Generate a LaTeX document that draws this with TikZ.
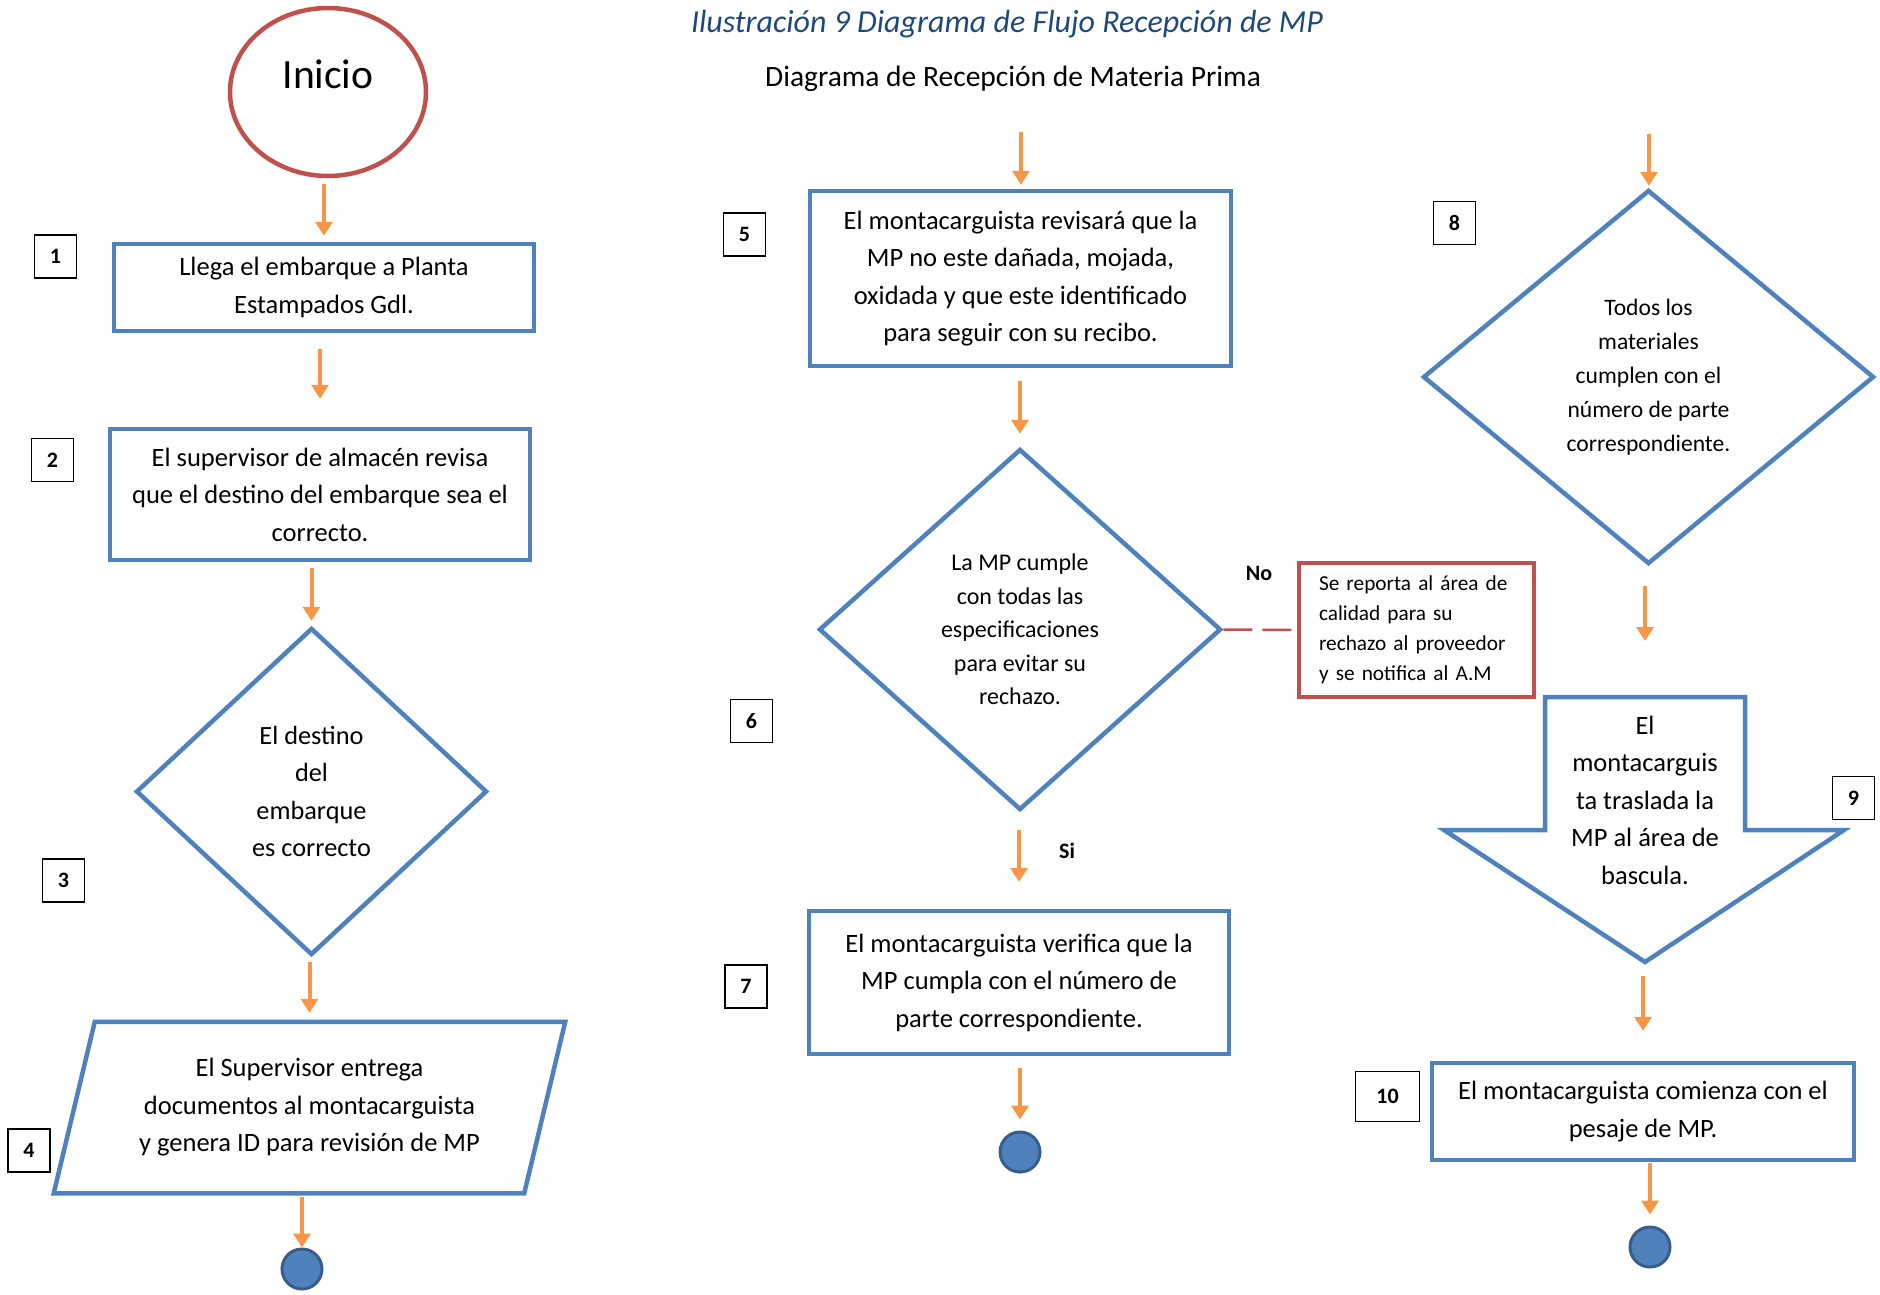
\documentclass[tikz,border=0pt]{standalone}
\usepackage{fontspec}
\setmainfont{Carlito}
\usetikzlibrary{shapes.geometric,arrows.meta}
\definecolor{azul}{HTML}{4F81BD}
\definecolor{azulosc}{HTML}{385D8A}
\definecolor{rojo}{HTML}{C0504D}
\definecolor{naranja}{HTML}{F79646}
\definecolor{titulo}{HTML}{1F497D}
\tikzset{
  caja/.style={draw=azul, line width=4.5pt, inner sep=0pt, align=center, font=\fontsize{26.5}{37.5}\selectfont},
  rombo/.style={diamond, draw=azul, line width=4.5pt, inner sep=0pt, align=center, font=\fontsize{24}{33.6}\selectfont},
  num/.style={draw, line width=1.2pt, minimum width=42pt, minimum height=43pt, inner sep=0pt, font=\fontsize{22}{22}\selectfont\bfseries},
  flecha/.style={draw=naranja, line width=4pt, -{Triangle[length=14pt,width=17pt]}},
  fin/.style={circle, fill=azul, draw=azulosc, line width=3pt, minimum size=40pt, inner sep=0pt},
  etiq/.style={font=\fontsize{22}{22}\selectfont\bfseries}
}
\begin{document}
\begin{tikzpicture}[x=1pt,y=-1pt]
\useasboundingbox (0,0) rectangle (1880,1294);
\node[font=\fontsize{32}{38}\selectfont\itshape, text=titulo] (tit) at (1007,24) {Ilustración 9 Diagrama de Flujo Recepción de MP};
\node[font=\fontsize{29.5}{35}\selectfont] (sub) at (1013,79) {Diagrama de Recepción de Materia Prima};
%Drawing first column
\node[ellipse, draw=rojo, line width=4.5pt, minimum width=196pt, minimum height=168pt, inner sep=0pt, text depth=36pt, font=\fontsize{41.6}{50}\selectfont] (inicio) at (328,92) {Inicio};
\node[caja, minimum width=420pt, minimum height=87pt] (b1) at (324,287.5) {Llega el embarque a Planta\\Estampados Gdl.};
\node[caja, minimum width=420pt, minimum height=131pt] (b2) at (320,494.5) {El supervisor de almacén revisa\\que el destino del embarque sea el\\correcto.};
\node[rombo, minimum width=351pt, minimum height=327pt, font=\fontsize{26.3}{37.4}\selectfont] (d3) at (311.5,791.5) {El destino\\del\\embarque\\es correcto};
\node[caja, draw=none, minimum width=507pt, minimum height=167pt] (p4) at (309.5,1107.5) {El Supervisor entrega\\documentos al montacarguista\\y genera ID para revisión de MP};
\draw[azul, line width=4.5pt] ([xshift=41pt]p4.north west) -- (p4.north east) -- ([xshift=-41pt]p4.south east) -- (p4.south west) -- cycle;
\node[fin] (e1) at (302,1269) {};
%Drawing second column
\coordinate (c5) at (1021,132);
\node[caja, minimum width=421pt, minimum height=175pt] (b5) at (1020.5,278.5) {El montacarguista revisará que la\\MP no este dañada, mojada,\\oxidada y que este identificado\\para seguir con su recibo.};
\node[rombo, minimum width=402pt, minimum height=361pt] (d6) at (1020,629.5) {La MP cumple\\con todas las\\especificaciones\\para evitar su\\rechazo.};
\node[draw=rojo, line width=4.5pt, minimum width=235pt, minimum height=134pt, inner sep=0pt, text width=195pt, align=left, font=\fontsize{21.3}{30}\selectfont] (rech) at (1416.5,630) {Se reporta al área de\\calidad para su\\rechazo al proveedor\\y se notifica al A.M};
\node[caja, minimum width=420pt, minimum height=143pt] (b7) at (1019,982.5) {El montacarguista verifica que la\\MP cumpla con el número de\\parte correspondiente.};
\node[fin] (e2) at (1020,1152) {};
\node[etiq] (no) at (1259,573) {No};
\node[etiq] (si) at (1067,851) {Si};
%Drawing third column
\coordinate (c8) at (1649,134);
\node[rombo, minimum width=451pt, minimum height=374pt, font=\fontsize{23.6}{34}\selectfont] (d8) at (1648.5,377) {Todos los\\materiales\\cumplen con el\\número de parte\\correspondiente.};
\draw[azul, line width=4.5pt] (1545,697) -- (1745,697) -- (1745,830) -- (1844,830) -- (1645,962) -- (1444,830) -- (1545,830) -- cycle;
\coordinate (f9a) at (1645,697);
\coordinate (f9b) at (1645,962);
\node[caja, draw=none] (f9) at (1645,800) {El\\montacarguis\\ta traslada la\\MP al área de\\bascula.};
\node[caja, minimum width=422pt, minimum height=97pt] (b10) at (1643,1111.5) {El montacarguista comienza con el\\pesaje de MP.};
\node[fin] (e3) at (1650,1247) {};
%Drawing step numbers
\node[num] (n1) at (55.5,256.5) {1};
\node[num] (n2) at (52.5,460) {2};
\node[num] (n3) at (63.5,880.5) {3};
\node[num] (n4) at (29,1150.5) {4};
\node[num] (n5) at (744.5,234.5) {5};
\node[num] (n6) at (751.5,721) {6};
\node[num] (n7) at (746,986.5) {7};
\node[num] (n8) at (1454.5,223) {8};
\node[num] (n9) at (1853.5,798) {9};
\node[num, minimum width=64pt, minimum height=50pt] (n10) at (1387.5,1096.5) {10};
%Drawing arrows
\draw[flecha, shorten <=6pt, shorten >=6pt] (inicio.south -| b1.north) -- (b1.north);
\draw[flecha, shorten <=16pt, shorten >=28pt] (b1.south -| b2.north) -- (b2.north);
\draw[flecha, shorten <=6pt, shorten >=5pt] (b2.south -| d3.north) -- (d3.north);
\draw[flecha, shorten <=5pt, shorten >=9pt] (d3.south -| p4.north) -- (p4.north);
\draw[flecha, shorten <=4pt] (p4.south -| e1.north) -- (e1.north);
\draw[flecha, shorten >=4pt] (c5) -- (c5 |- b5.north);
\draw[flecha, shorten <=13pt, shorten >=13pt] (b5.south -| d6.north) -- (d6.north);
\draw[flecha, shorten <=18pt, shorten >=27pt] (d6.south -| b7.north) -- (b7.north);
\draw[flecha, shorten <=12pt, shorten >=11pt] (b7.south -| e2.north) -- (e2.north);
\draw[flecha, shorten >=2pt] (c8) -- (c8 |- d8.north);
\draw[flecha, shorten <=20pt, shorten >=56pt] (d8.south -| f9a) -- (f9a);
\draw[flecha, shorten <=14pt, shorten >=30pt] (f9b -| b10.north) -- (b10.north);
\draw[flecha, shorten <=1pt, shorten >=11pt] (b10.south -| e3.north) -- (e3.north);
\draw[rojo, line width=2.5pt, dash pattern=on 29pt off 10pt] (d6.east) -- (rech.west);
\end{tikzpicture}
\end{document}
